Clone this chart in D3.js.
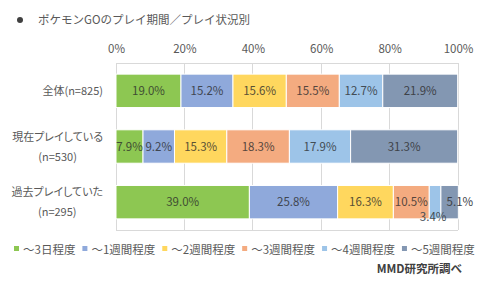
<!DOCTYPE html>
<html><head><meta charset="utf-8">
<script src="https://cdn.jsdelivr.net/npm/d3@7"></script>
<style>body{margin:0;background:#fff}svg{display:block}text{font-family:"Noto Sans CJK JP","Noto Sans",sans-serif}.palt{font-feature-settings:"palt"}</style>
</head><body>
<script>
const title = "ポケモンGOのプレイ期間／プレイ状況別";
const categories = [["全体(n=825)"], ["現在プレイしている", "(n=530)"], ["過去プレイしていた", "(n=295)"]];
const seriesNames = ["～3日程度", "～1週間程度", "～2週間程度", "～3週間程度", "～4週間程度", "～5週間程度"];
const colors = ["#8dc752", "#8fa9db", "#ffd75e", "#f4ab80", "#9dc4e8", "#8397b2"];
const values = [
  [19.0, 15.2, 15.6, 15.5, 12.7, 21.9],
  [7.9, 9.2, 15.3, 18.3, 17.9, 31.3],
  [39.0, 25.8, 16.3, 10.5, 3.4, 5.1]
];
const ticks = [0, 20, 40, 60, 80, 100];
const source = "MMD研究所調べ";

const W = 490, H = 292;
const svg = d3.select("body").append("svg").attr("width", W).attr("height", H);
const x = d3.scaleLinear().domain([0, 100]).range([116, 458]);
const y = d3.scaleBand().domain(d3.range(categories.length)).range([63, 230]).paddingInner(0.4).paddingOuter(0.2);

// title
svg.append("circle").attr("cx", 20).attr("cy", 20).attr("r", 3).attr("fill", "#404040");
svg.append("text").attr("x", 38).attr("y", 24).attr("font-size", 11.5).attr("fill", "#595959").text(title);

// grid
const g = svg.append("g");
g.selectAll("line.grid").data(ticks).join("line")
  .attr("x1", d => x(d)).attr("x2", d => x(d)).attr("y1", 63).attr("y2", 230)
  .attr("stroke", "#d9d9d9").attr("stroke-width", 1).attr("shape-rendering", "crispEdges");
g.append("line").attr("x1", x(0)).attr("x2", x(100)).attr("y1", 63).attr("y2", 63).attr("stroke", "#d9d9d9").attr("shape-rendering", "crispEdges");
g.append("line").attr("x1", x(0)).attr("x2", x(100)).attr("y1", 230).attr("y2", 230).attr("stroke", "#d9d9d9").attr("shape-rendering", "crispEdges");

// axis
const axis = d3.axisTop(x).tickValues(ticks).tickFormat(d => d + "%").tickSize(0).tickPadding(0);
const ag = svg.append("g").attr("transform", "translate(0,53)").call(axis);
ag.select(".domain").remove();
ag.selectAll("text").attr("font-size", 11.5).attr("fill", "#595959").attr("font-family", '"Noto Sans CJK JP",sans-serif');

// bars
values.forEach((row, i) => {
  let cum = 0;
  const segs = row.map((v, j) => { const s = {v, j, x0: cum, x1: cum + v}; cum += v; return s; });
  const rg = svg.append("g");
  rg.selectAll("rect").data(segs).join("rect")
    .attr("x", d => x(d.x0)).attr("width", d => x(d.x1) - x(d.x0))
    .attr("y", y(i)).attr("height", y.bandwidth())
    .attr("fill", d => colors[d.j]).attr("stroke", "#fff").attr("stroke-width", 1);
  rg.selectAll("text").data(segs).join("text")
    .attr("x", d => {
      let cx = (x(d.x0) + x(d.x1)) / 2;
      if (d.v < 4) cx -= 2;
      if (d.v < 6 && d.j === 5) cx = x(d.x0) + 19;
      return cx;
    })
    .attr("y", d => y(i) + y.bandwidth() / 2 + 4 + (d.v < 4 ? 15 : 0))
    .attr("text-anchor", "middle").attr("font-size", 11.5)
    .attr("fill", d => d3.interpolateRgb(colors[d.j], "#2a2a2a")(0.78))
    .text(d => d.v.toFixed(1) + "%");
  // category label
  const lines = categories[i];
  const lt = svg.append("text").attr("class", "palt").attr("text-anchor", "middle").attr("font-size", 11).attr("fill", "#595959");
  const spans = lines.map((l, k) => lt.append("tspan")
      .attr("y", y(i) + y.bandwidth() / 2 + 4 + (k - (lines.length - 1) / 2) * 20).text(l));
  const maxW = d3.max(spans, s => s.node().getComputedTextLength());
  spans.forEach(s => s.attr("x", 103 - maxW / 2));
});

// legend
const lg = svg.append("g");
let lx = 14;
seriesNames.forEach((n, j) => {
  lg.append("rect").attr("x", lx).attr("y", 246).attr("width", 5).attr("height", 5).attr("fill", colors[j]);
  const t = lg.append("text").attr("x", lx + 9).attr("y", 253.5).attr("font-size", 11.5).attr("fill", "#595959").text(n);
  lx += 9 + t.node().getComputedTextLength() + 7;
});

svg.append("text").attr("x", 462).attr("y", 273).attr("text-anchor", "end").attr("font-size", 11.5).attr("font-weight", "bold").attr("fill", "#404040").text(source);
</script>
</body></html>
